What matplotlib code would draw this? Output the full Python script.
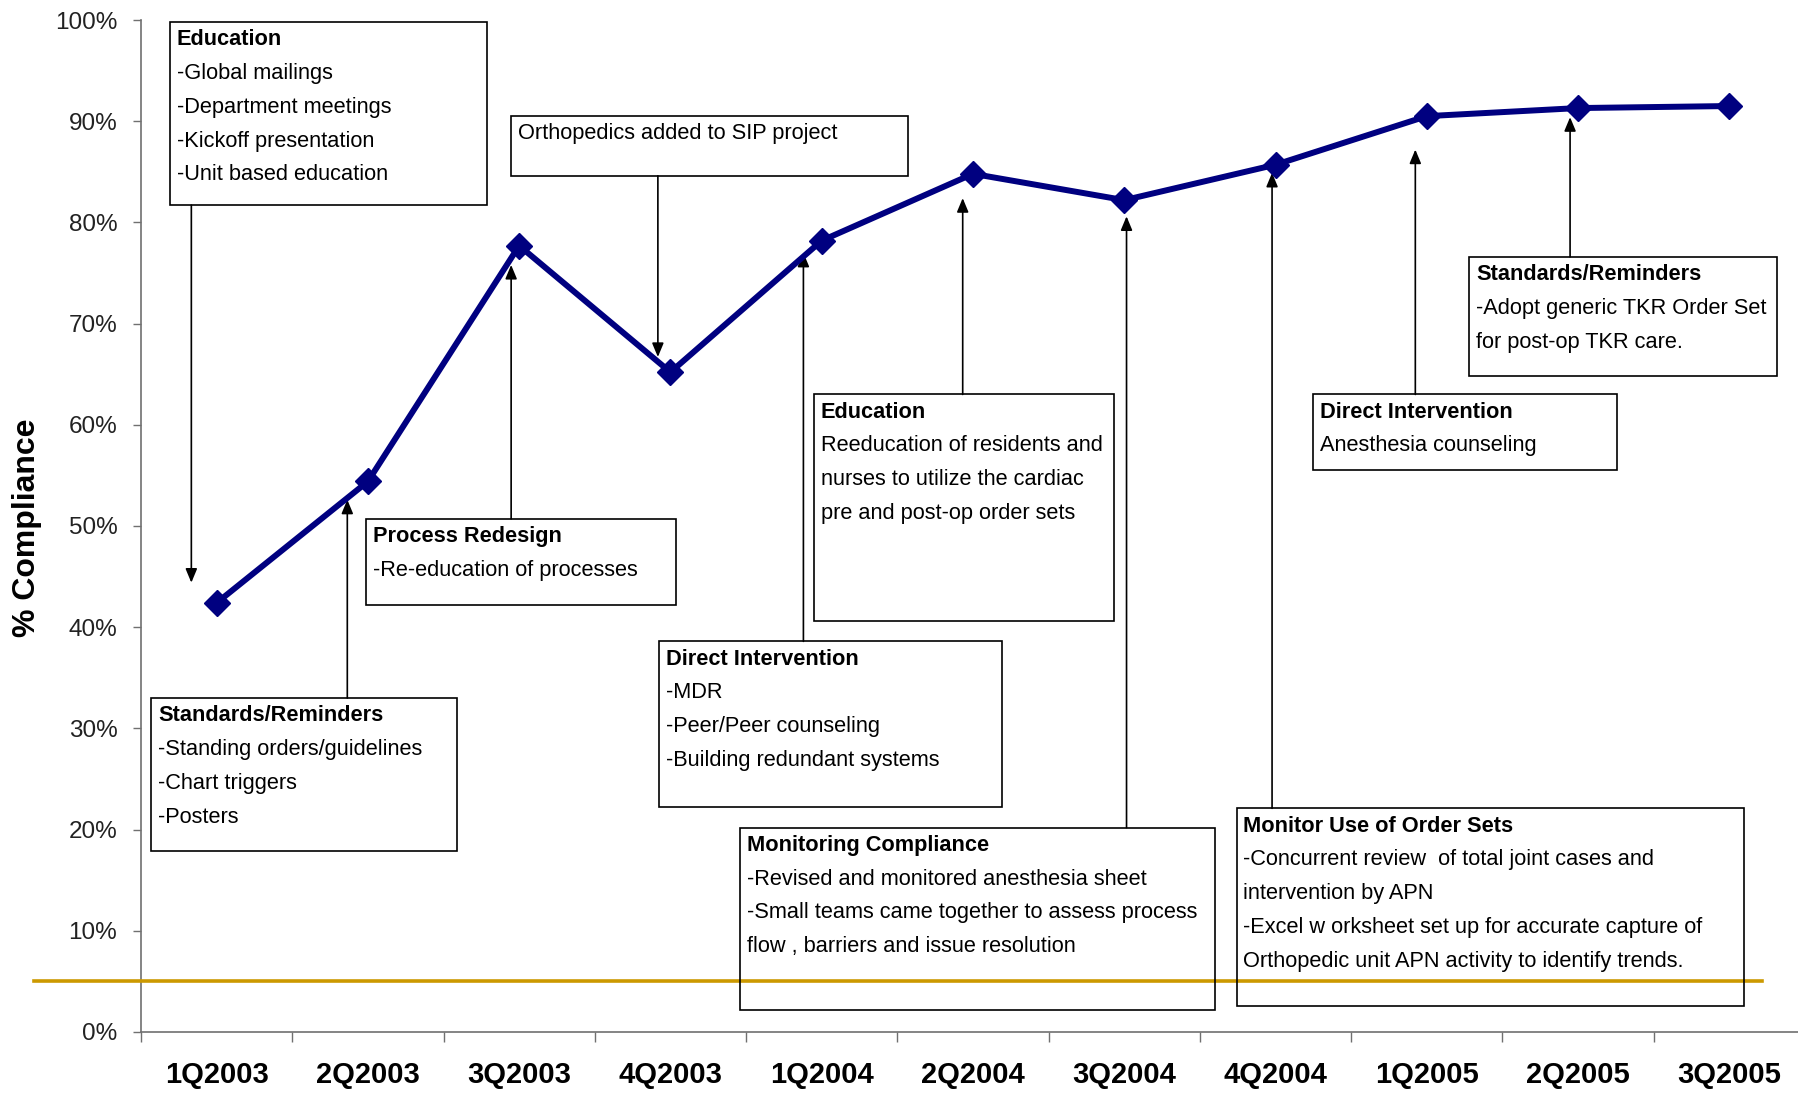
import matplotlib.pyplot as plt
from matplotlib.patches import Rectangle

plt.rcParams['font.family'] = ['Liberation Sans', 'DejaVu Sans']

quarters = ["1Q2003", "2Q2003", "3Q2003", "4Q2003", "1Q2004", "2Q2004",
            "3Q2004", "4Q2004", "1Q2005", "2Q2005", "3Q2005"]
compliance = [42.4, 54.4, 77.7, 65.2, 78.2, 84.8, 82.2, 85.7, 90.5, 91.3, 91.5]
target = 5
y_ticks = list(range(0, 101, 10))
y_tick_labels = [f"{v}%" for v in y_ticks]

note_titles = [
    "Education",
    None,
    "Standards/Reminders",
    "Process Redesign",
    "Direct Intervention",
    "Education",
    "Monitoring Compliance",
    "Monitor Use of Order Sets",
    "Direct Intervention",
    "Standards/Reminders",
]
note_lines = [
    ["-Global mailings", "-Department meetings", "-Kickoff presentation", "-Unit based education"],
    ["Orthopedics added to SIP project"],
    ["-Standing orders/guidelines", "-Chart triggers", "-Posters"],
    ["-Re-education of processes"],
    ["-MDR", "-Peer/Peer counseling", "-Building redundant systems"],
    ["Reeducation of residents and", "nurses to utilize the cardiac", "pre and post-op order sets"],
    ["-Revised and monitored anesthesia sheet",
     "-Small teams came together to assess process",
     "flow , barriers and issue resolution"],
    ["-Concurrent review  of total joint cases and", "intervention by APN",
     "-Excel w orksheet set up for accurate capture of",
     "Orthopedic unit APN activity to identify trends."],
    ["Anesthesia counseling"],
    ["-Adopt generic TKR Order Set", "for post-op TKR care."],
]

# layout of the call-out boxes: (left, right, top, bottom) in axis units
note_boxes = [
    (-0.311, 1.788, 99.8, 81.7),
    (1.947, 4.568, 90.5, 84.6),
    (-0.432, 1.591, 33.0, 17.9),
    (0.985, 3.038, 50.7, 42.2),
    (2.924, 5.189, 38.6, 22.2),
    (3.947, 5.932, 63.0, 40.6),
    (3.462, 6.598, 20.2, 2.2),
    (6.742, 10.098, 22.1, 2.6),
    (7.250, 9.258, 63.0, 55.5),
    (8.280, 10.318, 76.6, 64.8),
]
# arrow x position, start edge and tip
note_arrows = [
    (-0.167, 81.7, 44.4),
    (2.917, 84.6, 66.7),
    (0.864, 33.0, 52.6),
    (1.947, 50.7, 75.8),
    (3.879, 38.6, 77.0),
    (4.932, 63.0, 82.4),
    (6.015, 20.2, 80.6),
    (6.977, 22.1, 84.9),
    (7.924, 63.0, 87.2),
    (8.947, 76.6, 90.4),
]

fig = plt.figure(figsize=(17.98, 10.94), dpi=100)
ax = fig.add_axes([0.0784, 0.0567, 0.9255, 0.925])

x = list(range(len(quarters)))
ax.plot(x, compliance, color="#000080", lw=4.3, marker="D", ms=13,
        zorder=5, clip_on=False)
ax.axhline(target, xmin=-0.064, xmax=0.974, color="#CC9900", lw=2.6,
           clip_on=False, zorder=3)

ax.set_xlim(-0.5, len(quarters) - 0.5)
ax.set_ylim(0, 100)
ax.set_yticks(y_ticks)
ax.set_yticklabels(y_tick_labels, fontsize=17.5, color="#222222")
ax.set_xticks([i - 0.5 for i in range(len(quarters) + 1)])
ax.set_xticklabels([])
ax.set_xticks(x, minor=True)
ax.set_xticklabels(quarters, minor=True, fontsize=21, fontweight="bold")
ax.tick_params(axis="x", which="minor", length=0, pad=21)
ax.tick_params(axis="x", which="major", length=7, width=1, color="#707070")
ax.tick_params(axis="y", length=6, width=1, color="#707070", pad=11)

for side in ["top", "right"]:
    ax.spines[side].set_visible(False)
for side in ["left", "bottom"]:
    ax.spines[side].set_color("#707070")
    ax.spines[side].set_linewidth(1.2)

fig.text(27 / 1798, 0.518, "% Compliance", rotation=90, ha="center",
         va="center", fontsize=23, fontweight="bold")

line_step = 3.34
for title, lines, box, arrow in zip(note_titles, note_lines, note_boxes, note_arrows):
    x0, x1, top, bottom = box
    ax.add_patch(Rectangle((x0, bottom), x1 - x0, top - bottom, fill=False,
                           ec="black", lw=1.2, zorder=4, clip_on=False))
    rows = ([(title, "bold")] if title else []) + [(t, "normal") for t in lines]
    for i, (t, w) in enumerate(rows):
        ax.text(x0 + 0.046, top - 1.75 - i * line_step, t, fontsize=15.7,
                fontweight=w, ha="left", va="center", zorder=6, clip_on=False)
    ax_x, start, tip = arrow
    ax.annotate("", xy=(ax_x, tip), xytext=(ax_x, start),
                arrowprops=dict(arrowstyle="-|>,head_length=0.6,head_width=0.25",
                                color="black", lw=1.2, mutation_scale=14,
                                shrinkA=0, shrinkB=0),
                zorder=4, annotation_clip=False)

fig.savefig("out.png", dpi=100)
